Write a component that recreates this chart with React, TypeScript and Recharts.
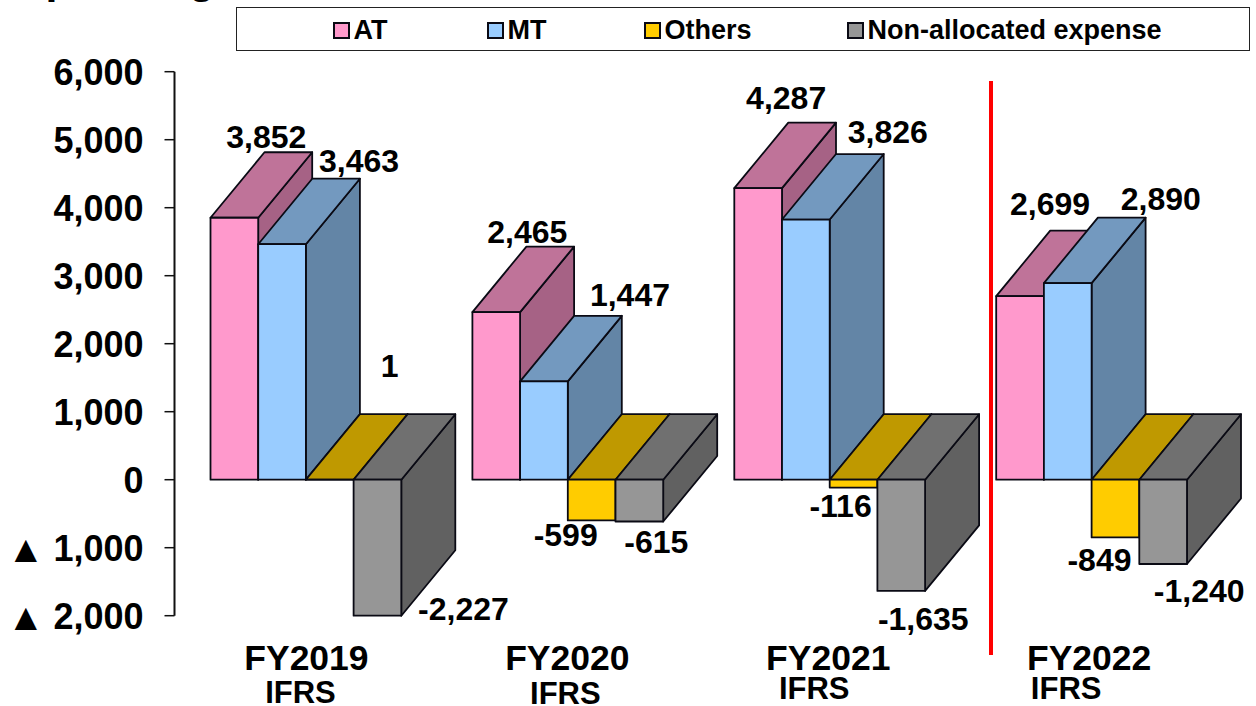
import { BarChart, Bar, XAxis, YAxis, LabelList, Legend } from 'recharts';

const categories = ['FY2019', 'FY2020', 'FY2021', 'FY2022'];
const atValues = [3852, 2465, 4287, 2699];
const mtValues = [3463, 1447, 3826, 2890];
const othersValues = [1, -599, -116, -849];
const nonAllocatedValues = [-2227, -615, -1635, -1240];
const yTicks = [-2000, -1000, 0, 1000, 2000, 3000, 4000, 5000, 6000];
const AXIS_MIN = -2000;

// the bar for -2,227 stops at the bottom of the axis in the original
const data = categories.map((name, i) => ({
  name,
  at: atValues[i],
  mt: mtValues[i],
  others: othersValues[i],
  nonAllocated: nonAllocatedValues[i],
  nonAllocatedPlot: Math.max(nonAllocatedValues[i], AXIS_MIN),
}));

const FONT = '"Liberation Sans", Arial, sans-serif';
const DEPTH_X = 54;
const DEPTH_Y = 65.5;

// hand placed labels in the original, offset from the end of each bar
const atLabelOffsets = [[32, -81], [31, -80], [28, -90], [30, -92]];
const mtLabelOffsets = [[77, -83], [86, -86], [82, -88], [93, -84]];
const othersLabelOffsets = [[60, -114], [-26, 15], [-13, 18], [-16, 23]];
const nonLabelOffsets = [[86, -7], [17, 20], [22, 28], [36, 27]];
const categoryOffsets = [1, 0, -1, -2];
const ifrsOffsets = [[-5, 34], [-2, 35], [-15, 30], [-25, 30]];

const poly = (pts: number[][]) => pts.map((p) => p.join(',')).join(' ');

const make3dBar = (front: string, top: string, side: string) => (props: any) => {
  const { x, y, width, height } = props;
  const y0 = Math.min(y, y + height);
  const y1 = Math.max(y, y + height);
  const x1 = x + width;
  const line = { stroke: '#0a0a14', strokeWidth: 1.8, strokeLinejoin: 'round' as const };
  return (
    <g>
      <polygon
        points={poly([[x1, y0], [x1 + DEPTH_X, y0 - DEPTH_Y], [x1 + DEPTH_X, y1 - DEPTH_Y], [x1, y1]])}
        fill={side}
        {...line}
      />
      <polygon
        points={poly([[x, y0], [x + DEPTH_X, y0 - DEPTH_Y], [x1 + DEPTH_X, y0 - DEPTH_Y], [x1, y0]])}
        fill={top}
        {...line}
      />
      <rect x={x} y={y0} width={width} height={y1 - y0} fill={front} {...line} />
    </g>
  );
};

const makeLabel = (offsets: number[][]) => (props: any) => {
  const { x, y, width, height, value, index } = props;
  const end = value >= 0 ? Math.min(y, y + height) : Math.max(y, y + height);
  return (
    <text
      x={x + width / 2 + offsets[index][0]}
      y={end + offsets[index][1]}
      textAnchor="middle"
      dominantBaseline="central"
      fontFamily={FONT}
      fontWeight={700}
      fontSize={32}
      fill="#000"
    >
      {Number(value).toLocaleString('en-US')}
    </text>
  );
};

const CategoryTick = (props: any) => {
  const { x, y, payload, index } = props;
  return (
    <g fontFamily={FONT} fontWeight={700} fill="#000" textAnchor="middle">
      <text x={x + categoryOffsets[index]} y={y + 46} fontSize={35.5}>
        {payload.value}
      </text>
      <text x={x + ifrsOffsets[index][0]} y={y + 45 + ifrsOffsets[index][1]} fontSize={31}>
        IFRS
      </text>
    </g>
  );
};

const ValueTick = (props: any) => {
  const { x, y, payload } = props;
  const v: number = payload.value;
  return (
    <g fontFamily={FONT} fontWeight={700} fill="#000">
      {v < 0 && (
        <text x={7} y={y + 1} fontSize={38} dominantBaseline="central">
          ▲
        </text>
      )}
      <text x={x} y={y + 1} fontSize={36} textAnchor="end" dominantBaseline="central">
        {Math.abs(v).toLocaleString('en-US')}
      </text>
    </g>
  );
};

const legendItems = [
  { label: 'AT', color: '#FF99CC', left: 333 },
  { label: 'MT', color: '#99CCFF', left: 487 },
  { label: 'Others', color: '#FFCC00', left: 644 },
  { label: 'Non-allocated expense', color: '#969696', left: 847 },
];

const ChartLegend = () => (
  <div
    style={{
      position: 'absolute',
      left: 236,
      top: 7,
      width: 1012,
      height: 42,
      border: '1.5px solid #222',
      background: '#fff',
      fontFamily: FONT,
      fontWeight: 700,
      fontSize: 27,
      color: '#000',
    }}
  >
    {legendItems.map((item) => (
      <div
        key={item.label}
        style={{ position: 'absolute', left: item.left - 237.5, top: 1, height: 42, display: 'flex', alignItems: 'center', whiteSpace: 'nowrap' }}
      >
        <span style={{ width: 13, height: 13, border: '2px solid #0a0a14', background: item.color, marginRight: 4 }} />
        {item.label}
      </div>
    ))}
  </div>
);

export default function App() {
  return (
    <div style={{ position: 'absolute', left: 0, top: 0, width: 1256, height: 706, overflow: 'hidden', background: '#fff' }}>
      <div style={{ position: 'absolute', left: 12, top: -47, fontFamily: FONT, fontWeight: 700, fontSize: 43, lineHeight: '50px', color: '#000' }}>
        Operating
      </div>
      <BarChart
        width={1256}
        height={706}
        data={data}
        margin={{ top: 71.7, right: 33.9, bottom: 0, left: 0 }}
        barSize={47.7}
        barGap={0}
      >
        <XAxis dataKey="name" axisLine={false} tickLine={false} height={90.3} interval={0} tick={<CategoryTick />} />
        <YAxis
          domain={[AXIS_MIN, 6000]}
          ticks={yTicks}
          interval={0}
          width={174.5}
          tickSize={10}
          tickMargin={21}
          axisLine={{ stroke: '#111', strokeWidth: 2 }}
          tickLine={{ stroke: '#111', strokeWidth: 1.5 }}
          tick={<ValueTick />}
        />
        <Legend content={<ChartLegend />} wrapperStyle={{ position: 'absolute', left: 0, top: 0, width: 0, height: 0 }} />
        <Bar dataKey="at" isAnimationActive={false} shape={make3dBar('#FF99CC', '#BF7399', '#A66285')}>
          <LabelList dataKey="at" content={makeLabel(atLabelOffsets)} />
        </Bar>
        <Bar dataKey="mt" isAnimationActive={false} shape={make3dBar('#99CCFF', '#7399BF', '#6385A6')}>
          <LabelList dataKey="mt" content={makeLabel(mtLabelOffsets)} />
        </Bar>
        <Bar dataKey="others" isAnimationActive={false} shape={make3dBar('#FFCC00', '#BF9900', '#A68500')}>
          <LabelList dataKey="others" content={makeLabel(othersLabelOffsets)} />
        </Bar>
        <Bar dataKey="nonAllocatedPlot" isAnimationActive={false} shape={make3dBar('#969696', '#707070', '#616161')}>
          <LabelList dataKey="nonAllocated" content={makeLabel(nonLabelOffsets)} />
        </Bar>
        <line x1={991} y1={81} x2={991} y2={655} stroke="#FF0000" strokeWidth={4} />
      </BarChart>
    </div>
  );
}
